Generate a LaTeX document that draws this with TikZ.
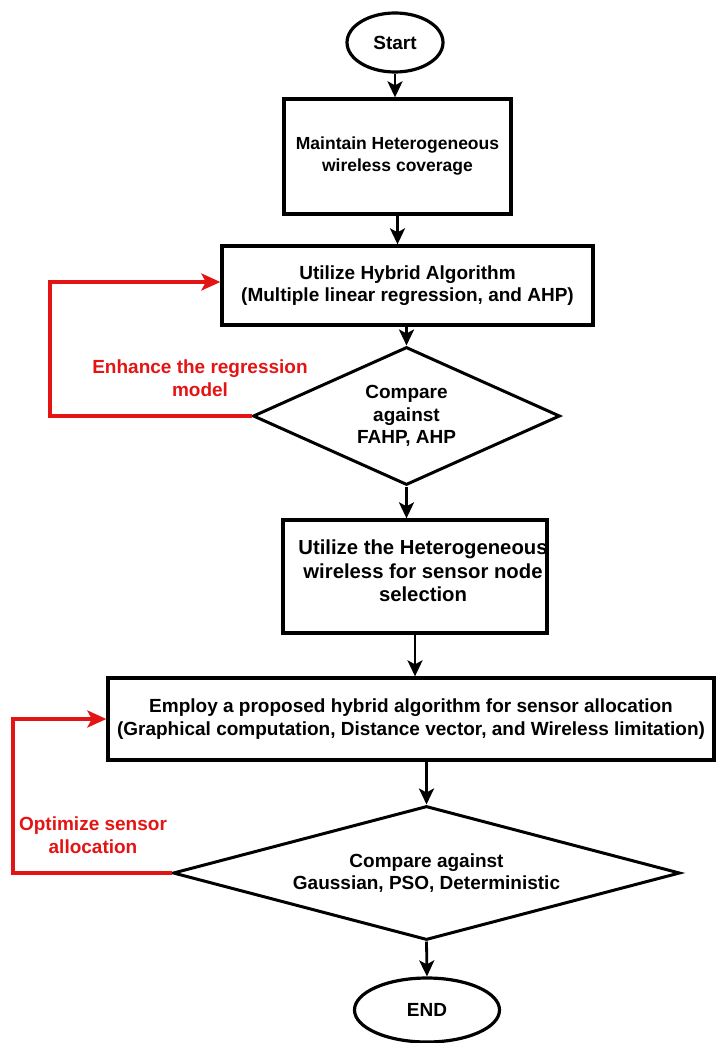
\documentclass[tikz,border=0pt]{standalone}
\usepackage{fontspec}
\setmainfont{Liberation Sans}
\usetikzlibrary{shapes.geometric,arrows.meta}
\definecolor{loopred}{RGB}{228,20,20}
\begin{document}
\begin{tikzpicture}[x=1pt,y=-1pt,
  every node/.style={font=\bfseries\fontsize{19}{22.5}\selectfont,align=center},
  procbox/.style={draw,line width=3.3pt,inner sep=0pt},
  terminal/.style={draw,ellipse,line width=3.2pt,inner sep=0pt},
  decision/.style={draw,diamond,line width=3pt,inner sep=0pt},
  flow/.style={line width=2.8pt,-{Stealth[length=16pt,width=15pt,inset=4pt]}},
  feedback/.style={draw=loopred,line width=3.4pt,-{Stealth[length=19pt,width=17pt,inset=4.5pt]}},
  feedlabel/.style={text=loopred}
]
\useasboundingbox (0,0) rectangle (716,1043);

% terminals
\node[terminal,minimum width=96pt,minimum height=59pt] (start) at (395,42.5) {Start};
\node[terminal,minimum width=145pt,minimum height=64pt] (end) at (427,1010) {END};

% process boxes
\node[procbox,minimum width=227pt,minimum height=115pt,
      font=\bfseries\fontsize{17.5}{22}\selectfont] (box1) at (397.5,156.5)
  {Maintain Heterogeneous\\wireless coverage};
\node[procbox,minimum width=371pt,minimum height=79pt] (box2) at (407.5,285.5)
  {Utilize Hybrid Algorithm\\(Multiple linear regression, and AHP)};
\node[procbox,minimum width=264pt,minimum height=113pt] (box3) at (415,576.5) {};
\node[font=\bfseries\fontsize{20.3}{23.5}\selectfont] (box3txt) at (423,571)
  {Utilize the Heterogeneous\\wireless for sensor node\\selection};
\node[procbox,minimum width=606pt,minimum height=82pt] (box4) at (411,719)
  {Employ a proposed hybrid algorithm for sensor allocation\\(Graphical computation, Distance vector, and Wireless limitation)};

% decisions
\node[decision,aspect=2.22,minimum width=307pt,minimum height=138pt] (dia1) at (406.5,416)
  {Compare\\against\\FAHP, AHP};
\node[decision,aspect=3.78,minimum width=507pt,minimum height=134pt] (dia2) at (426.5,873)
  {Compare against\\Gaussian, PSO, Deterministic};

% main flow
\draw[flow] (start.south) -- (start.south |- box1.north);
\draw[flow] (box1.south) -- (box1.south |- box2.north);
\draw[flow] (dia1.north |- box2.south) -- (dia1.north);
\draw[flow] (dia1.south) -- (dia1.south |- box3.north);
\draw[flow] (box3.south) -- (box3.south |- box4.north);
\draw[flow] (dia2.north |- box4.south) -- (dia2.north);
\draw[flow] (dia2.south) -- (end.north);

% feedback loops
\coordinate (loopA) at (50,282);
\coordinate (loopB) at (13,719);
\draw[feedback] (dia1.west) -| (loopA) -- (loopA -| box2.west);
\draw[feedback] (dia2.west) -| (loopB) -- (loopB -| box4.west);
\node[feedlabel] (lblA) at (200,378) {Enhance the regression\\model};
\node[feedlabel] (lblB) at (93,835) {Optimize sensor\\allocation};
\end{tikzpicture}
\end{document}
